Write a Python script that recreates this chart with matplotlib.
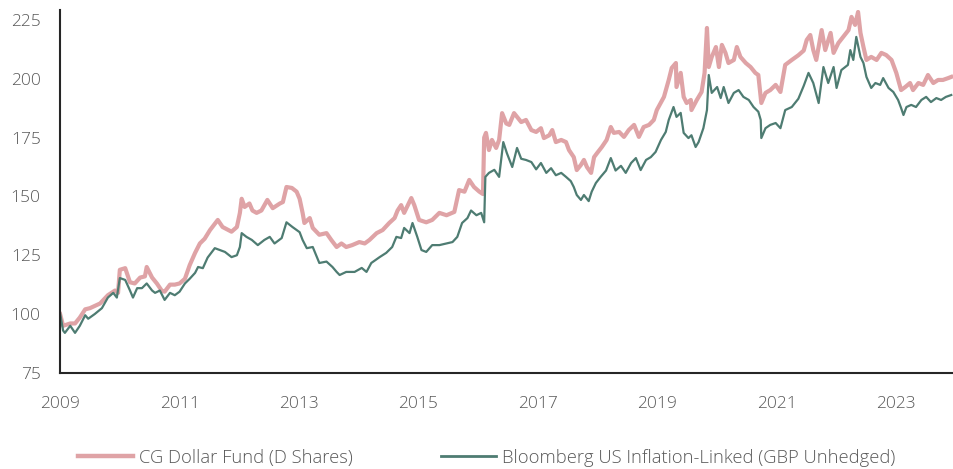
import matplotlib
matplotlib.use("Agg")
import matplotlib.pyplot as plt

plt.rcParams['font.family'] = ['Open Sans', 'DejaVu Sans']

# values (decimal year, index level)
fund_years = [
    2009.00, 2009.05, 2009.17, 2009.25, 2009.33, 2009.42, 2009.50, 2009.67, 2009.80, 2009.92, 2009.97,
    2010.00, 2010.09, 2010.17, 2010.25, 2010.34, 2010.42, 2010.45, 2010.54, 2010.62, 2010.70, 2010.75, 2010.84, 2010.92,
    2011.00, 2011.09, 2011.17, 2011.26, 2011.34, 2011.42, 2011.51, 2011.64, 2011.72, 2011.87, 2011.96,
    2012.01, 2012.04, 2012.09, 2012.17, 2012.22, 2012.29, 2012.37, 2012.47, 2012.56, 2012.68, 2012.73, 2012.79, 2012.88, 2012.96,
    2013.01, 2013.06, 2013.09, 2013.18, 2013.23, 2013.34, 2013.46, 2013.54, 2013.63, 2013.71, 2013.79, 2013.89,
    2014.01, 2014.10, 2014.18, 2014.30, 2014.40, 2014.51, 2014.60, 2014.65, 2014.71, 2014.76, 2014.88, 2014.93,
    2015.01, 2015.13, 2015.23, 2015.35, 2015.47, 2015.60, 2015.68, 2015.77, 2015.85, 2015.93,
    2016.02, 2016.08, 2016.10, 2016.13, 2016.18, 2016.23, 2016.30, 2016.35, 2016.40, 2016.47, 2016.52, 2016.60, 2016.72, 2016.80, 2016.89, 2016.97,
    2017.05, 2017.10, 2017.19, 2017.24, 2017.30, 2017.39, 2017.47, 2017.52, 2017.60, 2017.65, 2017.72, 2017.77, 2017.82, 2017.89, 2017.94, 2017.99,
    2018.07, 2018.15, 2018.22, 2018.27, 2018.36, 2018.44, 2018.52, 2018.61, 2018.69, 2018.77, 2018.86, 2018.94, 2018.99,
    2019.06, 2019.11, 2019.19, 2019.24, 2019.31, 2019.32, 2019.39, 2019.44, 2019.49, 2019.56, 2019.57, 2019.66, 2019.74, 2019.79, 2019.83, 2019.86, 2019.91, 2019.98,
    2020.03, 2020.08, 2020.14, 2020.19, 2020.28, 2020.33, 2020.39, 2020.48, 2020.56, 2020.64, 2020.69, 2020.74, 2020.81, 2020.89, 2020.98,
    2021.06, 2021.14, 2021.25, 2021.36, 2021.45, 2021.50, 2021.56, 2021.61, 2021.66, 2021.75, 2021.81, 2021.90, 2021.95,
    2022.03, 2022.11, 2022.20, 2022.25, 2022.31, 2022.36, 2022.40, 2022.45, 2022.50, 2022.58, 2022.67, 2022.75, 2022.83, 2022.92,
    2023.00, 2023.08, 2023.15, 2023.23, 2023.28, 2023.37, 2023.45, 2023.53, 2023.62, 2023.70, 2023.78, 2023.87, 2023.92,
]
fund_values = [
    100, 95, 96, 96, 98.5, 102, 102.5, 104.5, 108, 110, 109,
    118.8, 119.5, 113.5, 113, 115.5, 116, 120, 115.5, 113, 110, 109.5, 112.5, 112.5,
    113, 115, 120.8, 126, 130, 132, 135.7, 140, 137, 135, 137,
    143, 149, 145.5, 147, 144, 143, 144, 148.5, 145, 147, 147.6, 154, 153.6, 152,
    149, 143, 138.7, 140.8, 136.6, 133.7, 134.4, 131.5, 128.5, 130, 128.5, 129.3,
    130.6, 130, 131.5, 134.4, 135.7, 138.7, 140.8, 144, 146.3, 143, 149.3, 146.3,
    140, 139, 140, 143, 142, 143.4, 152.7, 152, 157, 154,
    152, 151, 175, 177, 169.7, 174, 170.6, 174, 185.4, 181, 180.4, 185.4, 181.6, 182.5, 178.2, 177.4,
    179, 174.8, 176, 178.2, 173.1, 174, 173.1, 169.7, 166.7, 161.2, 163.4, 165.5, 162.5, 160, 166.7, 168.4,
    171, 174, 179.5, 177, 177.4, 175.3, 178.2, 180.4, 175.3, 179.5, 180.4, 182.5, 186.7,
    190, 192.3, 199.5, 204.6, 206.7, 196.5, 202.5, 192.3, 189.7, 191, 186.7, 191, 194.4, 202.5, 221.6, 205, 209.3, 213.5,
    205, 214.4, 211, 206.7, 208, 213.5, 209.3, 206.7, 205, 202.5, 201.6, 189.7, 194, 195.2, 197.4,
    194.4, 205.9, 208, 210, 212, 216.5, 218.6, 212.2, 208, 220.7, 212.2, 219.5, 211,
    215.2, 217.8, 220.7, 226.3, 222.9, 228.4, 219.5, 213.5, 208, 209.3, 208, 211, 210.1, 208,
    202.5, 195.2, 196.5, 198.2, 195.2, 198.2, 197.4, 201.6, 198.2, 199.5, 199.5, 200.3, 200.8,
]

index_years = [
    2009.00, 2009.05, 2009.08, 2009.17, 2009.25, 2009.33, 2009.42, 2009.47, 2009.58, 2009.70, 2009.80, 2009.89, 2009.95,
    2010.00, 2010.09, 2010.17, 2010.22, 2010.29, 2010.37, 2010.45, 2010.54, 2010.59, 2010.67, 2010.75, 2010.84, 2010.92,
    2011.00, 2011.09, 2011.17, 2011.26, 2011.31, 2011.39, 2011.47, 2011.59, 2011.76, 2011.87, 2011.96,
    2012.01, 2012.04, 2012.12, 2012.21, 2012.31, 2012.42, 2012.51, 2012.59, 2012.71, 2012.79, 2012.89,
    2013.01, 2013.06, 2013.13, 2013.23, 2013.34, 2013.46, 2013.56, 2013.63, 2013.68, 2013.79, 2013.93,
    2014.05, 2014.13, 2014.21, 2014.35, 2014.46, 2014.56, 2014.63, 2014.71, 2014.76, 2014.85, 2014.90, 2014.98,
    2015.05, 2015.13, 2015.23, 2015.35, 2015.47, 2015.57, 2015.65, 2015.73, 2015.82, 2015.88, 2015.97,
    2016.05, 2016.10, 2016.12, 2016.18, 2016.27, 2016.35, 2016.42, 2016.48, 2016.57, 2016.65, 2016.72, 2016.80, 2016.89, 2016.97,
    2017.05, 2017.14, 2017.22, 2017.30, 2017.39, 2017.47, 2017.55, 2017.60, 2017.65, 2017.72, 2017.77, 2017.85, 2017.90, 2017.97,
    2018.05, 2018.14, 2018.22, 2018.30, 2018.39, 2018.47, 2018.56, 2018.64, 2018.72, 2018.81, 2018.89, 2018.97,
    2019.06, 2019.14, 2019.19, 2019.27, 2019.32, 2019.39, 2019.44, 2019.52, 2019.57, 2019.64, 2019.69, 2019.77, 2019.83, 2019.86, 2019.91,
    2020.00, 2020.06, 2020.11, 2020.19, 2020.28, 2020.36, 2020.44, 2020.53, 2020.61, 2020.69, 2020.73, 2020.74, 2020.81, 2020.89, 2020.98,
    2021.06, 2021.14, 2021.25, 2021.36, 2021.45, 2021.53, 2021.61, 2021.70, 2021.78, 2021.86, 2021.95,
    2022.00, 2022.08, 2022.19, 2022.23, 2022.28, 2022.33, 2022.40, 2022.45, 2022.50, 2022.58, 2022.65, 2022.73, 2022.78, 2022.87, 2022.95,
    2023.03, 2023.08, 2023.12, 2023.17, 2023.25, 2023.33, 2023.42, 2023.50, 2023.58, 2023.67, 2023.75, 2023.83, 2023.92,
]
index_values = [
    100.4, 93, 92, 95, 92, 95, 99.5, 98, 100, 102.5, 107, 109, 107,
    115.3, 114.5, 110, 107, 111, 111, 113, 110, 109, 110, 106, 109, 108,
    109.5, 113, 115, 117.5, 120, 119.5, 124, 128, 126.4, 124.2, 125,
    128.5, 134.4, 132.8, 131.5, 129.3, 131.5, 132.8, 130, 132.3, 139, 137,
    134.8, 131.5, 128, 128.5, 121.7, 122.3, 120, 117.9, 116.6, 117.9, 117.9,
    119.6, 117.9, 121.7, 124.2, 126, 128.5, 132.8, 132.3, 136.6, 134.4, 138.7, 132.8,
    127.2, 126.4, 129.3, 129.3, 130, 130.6, 132.8, 138.7, 140.8, 144, 142,
    143, 139, 158.3, 160, 161.3, 158.3, 173.1, 168.4, 162.5, 170.6, 166, 165.5, 164.6, 161.5,
    164.2, 160, 162, 159, 160, 158.3, 156.5, 154, 150.6, 148.5, 150.6, 148, 152, 155.7,
    158.3, 161, 166.3, 161, 163, 160, 164.2, 166.3, 161.2, 165.5, 166.7, 168.9,
    174, 177.4, 182.5, 188, 183.8, 185.5, 177, 174.8, 176, 171, 173.1, 179, 186.7, 201.6, 194,
    196.5, 191.8, 196.5, 189.7, 194, 195.2, 192.3, 191, 188, 186, 182.5, 174.8, 179, 180.4, 181.2,
    179, 186.7, 188, 191.5, 197, 202.5, 198.2, 189.7, 205, 198.2, 205,
    196.1, 203.7, 205.9, 212.2, 208, 217.8, 209.3, 206.7, 200.8, 196.1, 198.2, 197.4, 200.3, 196.1, 194.4,
    191, 187.6, 184.6, 188, 188.9, 188, 191, 192.3, 190.1, 191.8, 191, 192.3, 193.1,
]

fund_label = 'CG Dollar Fund (D Shares)'
index_label = 'Bloomberg US Inflation-Linked (GBP Unhedged)'
x_ticks = [2009, 2011, 2013, 2015, 2017, 2019, 2021, 2023]
y_ticks = [75, 100, 125, 150, 175, 200, 225]

assert len(fund_years) == len(fund_values)
assert len(index_years) == len(index_values)

pink = '#dfa3a6'
green = '#4e7c72'
text_col = '#595959'

fig = plt.figure(figsize=(9.54, 4.69), dpi=100)
ax = fig.add_axes([0.063, 0.205, 0.936, 0.774])

ax.plot(fund_years, fund_values, color=pink, lw=3.0, label=fund_label)
ax.plot(index_years, index_values, color=green, lw=1.6, label=index_label)

ax.set_xlim(2009, 2023.95)
ax.set_ylim(75, 229.3)
ax.set_xticks(x_ticks)
ax.set_yticks(y_ticks)
ax.tick_params(axis='both', length=0, labelsize=12.5, colors=text_col)
ax.tick_params(axis='y', pad=14)
ax.tick_params(axis='x', pad=17)
for lab in ax.get_xticklabels() + ax.get_yticklabels():
    lab.set_fontweight('light')

for s in ['top', 'right']:
    ax.spines[s].set_visible(False)
for s in ['left', 'bottom']:
    ax.spines[s].set_color('#262626')
    ax.spines[s].set_linewidth(1.5)

leg = fig.legend(loc='lower center', bbox_to_anchor=(0.51, -0.03), ncol=2,
                 frameon=False, fontsize=13.2, handlelength=3.0,
                 columnspacing=4.8, handletextpad=0.35)
for t in leg.get_texts():
    t.set_color(text_col)
    t.set_fontweight('light')
leg_lines = leg.get_lines()
leg_lines[0].set_linewidth(3.2)
leg_lines[1].set_linewidth(2.0)

fig.savefig('out.png', dpi=100)
